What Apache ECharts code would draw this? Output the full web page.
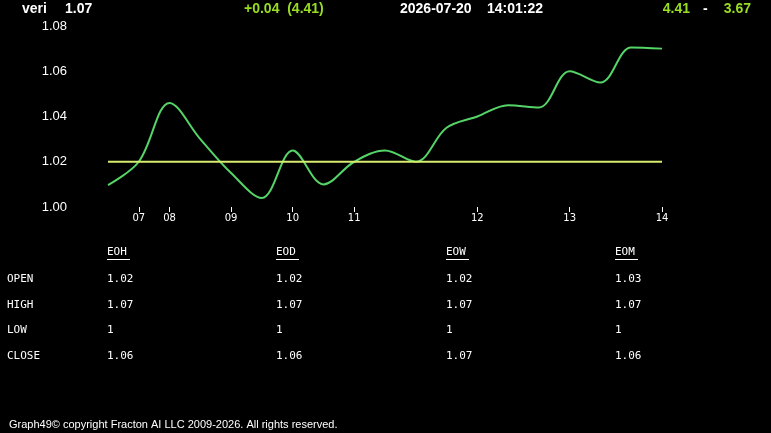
<!DOCTYPE html>
<html>
<head>
<meta charset="utf-8">
<script src="https://cdn.jsdelivr.net/npm/echarts@6/dist/echarts.min.js"></script>
<style>
html,body{margin:0;padding:0;background:#000;}
#c{width:771px;height:433px;}
</style>
</head>
<body>
<div id="c"></div>
<script>
// ---- data ----
var categories = ["06","07","08","","09","","10","","11","","","","12","","","13","","","14"];
var priceValues = [1.0097,1.02,1.046,1.03,1.015,1.004,1.025,1.01,1.02,1.025,1.02,1.035,1.04,1.045,1.044,1.06,1.055,1.0705,1.07];
var referenceValues = [1.02,1.02,1.02,1.02,1.02,1.02,1.02,1.02,1.02,1.02,1.02,1.02,1.02,1.02,1.02,1.02,1.02,1.02,1.02];
var yTicks = {min:1.00, max:1.08, interval:0.02};

var headerSymbol = "veri";
var headerLast = "1.07";
var headerChange = "+0.04  (4.41)";
var headerDate = "2026-07-20";
var headerTime = "14:01:22";
var headerHigh = "4.41";
var headerLow = "3.67";

var tableColumns = ["EOH","EOD","EOW","EOM"];
var tableRows = ["OPEN","HIGH","LOW","CLOSE"];
var tableValues = [
  ["1.02","1.02","1.02","1.03"],
  ["1.07","1.07","1.07","1.07"],
  ["1","1","1","1"],
  ["1.06","1.06","1.07","1.06"]
];
var footerText = "Graph49\u00a9 copyright Fracton AI LLC 2009-2026. All rights reserved.";

// ---- layout ----
var chart = echarts.init(document.getElementById('c'), null, {renderer:'canvas'});
var graphics = [];
var hdrFont = 'bold 14px "Liberation Sans", Arial, sans-serif';
function txt(x,y,t,color,font,align){
  graphics.push({type:'text', x:x, y:y, style:{text:t, fill:color, font:font, textAlign:align||'left', textVerticalAlign:'middle'}, silent:true});
}
txt(22,9,headerSymbol,'#ffffff',hdrFont);
txt(65,9,headerLast,'#ffffff',hdrFont);
txt(244,9,headerChange,'#99dd22',hdrFont);
txt(400,9,headerDate,'#ffffff',hdrFont);
txt(487,9,headerTime,'#ffffff',hdrFont);
txt(690,9,headerHigh,'#99dd22',hdrFont,'right');
txt(703,9,'-','#ffffff',hdrFont);
txt(751,9,headerLow,'#99dd22',hdrFont,'right');

var monoFont = '11px "DejaVu Sans Mono", monospace';
var colX = [107,276,446,615];
var rowY = [279,305,330,356];
for (var c=0;c<tableColumns.length;c++){
  txt(colX[c],252,tableColumns[c],'#ffffff',monoFont);
  graphics.push({type:'line', shape:{x1:colX[c], y1:259.5, x2:colX[c]+23, y2:259.5}, style:{stroke:'#ffffff', lineWidth:1}, silent:true});
}
for (var r=0;r<tableRows.length;r++){
  txt(7,rowY[r],tableRows[r],'#ffffff',monoFont);
  for (var c2=0;c2<tableColumns.length;c2++){
    txt(colX[c2],rowY[r],tableValues[r][c2],'#ffffff',monoFont);
  }
}
graphics.push({type:'text', x:9, y:425, style:{text:footerText, fill:'#ffffff', font:'11px "Liberation Sans", Arial, sans-serif', textVerticalAlign:'middle', letterSpacing:-0.3}, silent:true});

chart.setOption({
  backgroundColor:'#000000',
  animation:false,
  grid:{left:108, right:109, top:26, bottom:226, containLabel:false},
  xAxis:{
    type:'category',
    data:categories,
    boundaryGap:false,
    axisLine:{show:false},
    axisTick:{show:true, inside:false, length:5, lineStyle:{color:'#ffffff'},
      interval:function(i,v){return v!=='' && i>0;}},
    axisLabel:{color:'#ffffff', fontSize:10, fontFamily:'"DejaVu Sans", sans-serif', margin:6,
      interval:function(i,v){return v!=='' && i>0;}},
    splitLine:{show:false}
  },
  yAxis:{
    type:'value',
    min:yTicks.min, max:yTicks.max, interval:yTicks.interval,
    axisLine:{show:false}, axisTick:{show:false}, splitLine:{show:false},
    axisLabel:{color:'#ffffff', fontSize:13, fontFamily:'"Liberation Sans", Arial, sans-serif', margin:41,
      formatter:function(v){return v.toFixed(2);}}
  },
  series:[
    {type:'line', data:priceValues, smooth:0.35, showSymbol:false, lineStyle:{color:'#55d468', width:2}, z:2},
    {type:'line', data:referenceValues, showSymbol:false, lineStyle:{color:'#d8ec70', width:2}, z:3}
  ],
  graphic:graphics
});
</script>
</body>
</html>
